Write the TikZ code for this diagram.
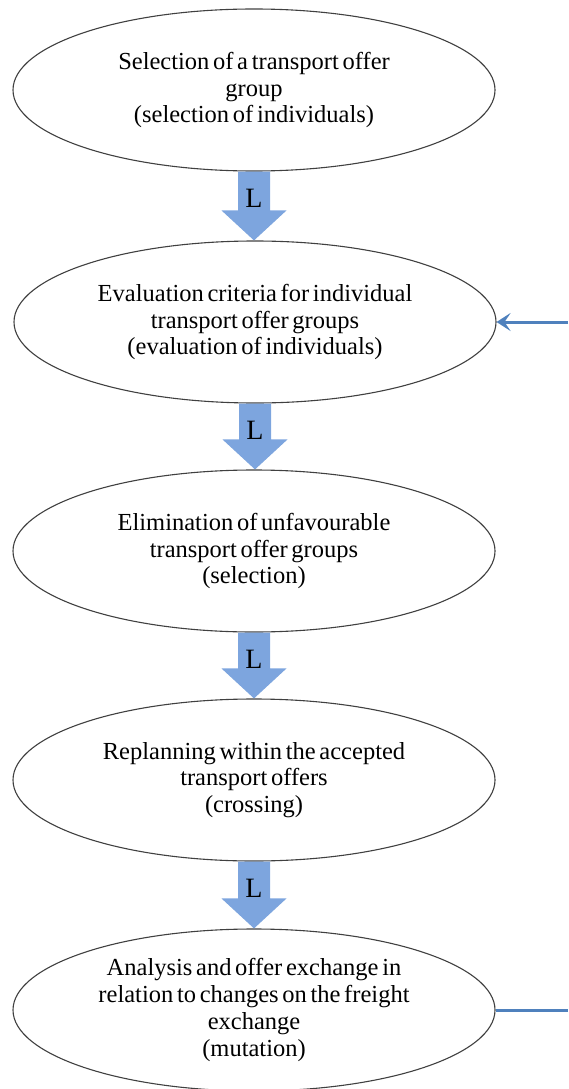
\documentclass[tikz,border=0pt]{standalone}
\usepackage{fontspec}
\setmainfont{Liberation Serif}
\usetikzlibrary{shapes.geometric,calc,arrows.meta}
\definecolor{blk}{RGB}{125,165,222}
\definecolor{fb}{RGB}{79,129,189}
\newcommand\mystagefont{\fontsize{24.5}{26.8}\selectfont\spaceskip=3.7pt plus 1pt minus 1pt\relax}
\newcommand\myblockarrow[2]{%
  \fill[blk] let \p1=(#1.south), \p2=(#2.north) in
    (\x1-16pt,\y1) -- (\x1+16pt,\y1) -- (\x1+16pt,\y2+30pt) -- (\x1+32.5pt,\y2+30pt)
    -- (\x1,\y2) -- (\x1-32.5pt,\y2+30pt) -- (\x1-16pt,\y2+30pt) -- cycle;}
\begin{document}
\begin{tikzpicture}[x=1pt,y=-1pt,
  stage/.style={ellipse, draw=black!75, line width=1.1pt, minimum width=482pt,
    minimum height=162pt, inner sep=0pt, align=center, font=\mystagefont},
  lab/.style={font=\fontsize{28}{30}\selectfont, inner sep=0pt},
  feedback/.style={draw=fb, line width=3pt}]
\useasboundingbox (0,0) rectangle (568,1089);
\node[stage] (e1) at (254,90) {Selection of a transport offer\\group\\(selection of individuals)};
\node[stage] (e2) at (255,322) {Evaluation criteria for individual\\transport offer groups\\(evaluation of individuals)};
\node[stage] (e3) at (254,551) {Elimination of unfavourable\\transport offer groups\\(selection)};
\node[stage] (e4) at (254,780) {Replanning within the accepted\\transport offers\\(crossing)};
\node[stage] (e5) at (254,1010) {Analysis and offer exchange in\\relation to changes on the freight\\exchange\\(mutation)};
\myblockarrow{e1}{e2}
\myblockarrow{e2}{e3}
\myblockarrow{e3}{e4}
\myblockarrow{e4}{e5}
\node[lab] (l1) at ($(e1.south)+(0,27)$) {L};
\node[lab] (l2) at ($(e2.south)+(0,27)$) {L};
\node[lab] (l3) at ($(e3.south)+(0,27)$) {L};
\node[lab] (l4) at ($(e4.south)+(0,27)$) {L};
\coordinate (r1) at (568,322);
\coordinate (r2) at (568,1010);
\draw[feedback, -{Stealth[length=14pt,width=18pt,inset=6pt]}] (r1) -- (e2.east);
\draw[feedback] (e5.east) -- (r2);
\end{tikzpicture}
\end{document}
